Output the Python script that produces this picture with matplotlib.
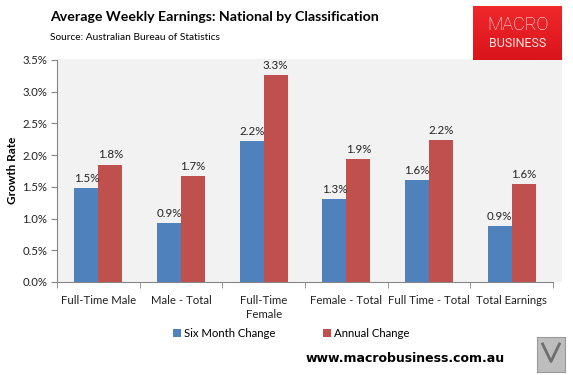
import numpy as np
import matplotlib
matplotlib.use("Agg")
import matplotlib.pyplot as plt
from matplotlib.patches import Rectangle

categories = ["Full-Time Male", "Male - Total", "Full-Time\nFemale",
              "Female - Total", "Full Time - Total", "Total Earnings"]
six_month = [1.48, 0.93, 2.22, 1.31, 1.61, 0.88]
annual = [1.85, 1.67, 3.26, 1.94, 2.24, 1.55]
six_labels = ["1.5%", "0.9%", "2.2%", "1.3%", "1.6%", "0.9%"]
annual_labels = ["1.8%", "1.7%", "3.3%", "1.9%", "2.2%", "1.6%"]
yticks = [0, 0.5, 1.0, 1.5, 2.0, 2.5, 3.0, 3.5]

plt.rcParams['font.family'] = ['Lato', 'DejaVu Sans']

W, H = 573, 375
fig = plt.figure(figsize=(W / 100, H / 100), dpi=100)
fig.patch.set_facecolor("white")

def px(x, y, w, h):
    return [x / W, 1 - (y + h) / H, w / W, h / H]

# grey plot area (extends a bit past the axis on the right)
bg = fig.add_axes(px(57, 59, 505, 223), zorder=0)
bg.set_facecolor("#F2F2F2")
bg.axis("off")
bg.add_patch(Rectangle((0, 0), 1, 1, transform=bg.transAxes, facecolor="#F2F2F2",
                       edgecolor="none"))

ax = fig.add_axes(px(57, 60, 496, 222), zorder=1)
ax.set_facecolor("none")
x = np.arange(len(categories))
bw = 0.29
blue = "#4F81BD"
red = "#C0504D"
b1 = ax.bar(x - bw / 2, six_month, bw, color=blue, label="Six Month Change", zorder=2)
b2 = ax.bar(x + bw / 2, annual, bw, color=red, label="Annual Change", zorder=2)

for bars, labs in ((b1, six_labels), (b2, annual_labels)):
    for b, t in zip(bars, labs):
        ax.annotate(t, (b.get_x() + b.get_width() / 2, b.get_height()),
                    xytext=(0, 3), textcoords="offset points",
                    ha="center", va="bottom", fontsize=8.3, color="#222222")

ax.set_xlim(-0.5, len(categories) - 0.5)
ax.set_ylim(0, 3.5)
ax.set_yticks(yticks)
ax.set_yticklabels(["{:.1f}%".format(v) for v in yticks], fontsize=8.2, color="#222222")
ax.set_xticks(x)
ax.set_xticklabels(categories, fontsize=8.2, color="#222222", linespacing=1.35)
ax.set_xticks(np.arange(-0.5, len(categories)), minor=True)
ax.tick_params(axis="x", which="major", length=0, pad=9)
ax.tick_params(axis="x", which="minor", length=4, color="#868686")
ax.tick_params(axis="y", length=4, color="#868686", pad=3)
for s in ("top", "right"):
    ax.spines[s].set_visible(False)
for s in ("left", "bottom"):
    ax.spines[s].set_color("#868686")

fig.text(13 / W, 1 - 170 / H, "Growth Rate", rotation=90, fontsize=8.5,
         fontweight="bold", ha="center", va="center")

ax.legend(loc="center left", bbox_to_anchor=(116 / 496, -0.23), ncol=2, frameon=False,
          fontsize=8.2, handlelength=0.7, handleheight=0.7, columnspacing=4.1,
          handletextpad=0.3, borderpad=0, borderaxespad=0)

fig.text(50 / W, 1 - 17 / H, "Average Weekly Earnings: National by Classification",
         fontsize=10.2, fontweight="bold", va="center", ha="left")
fig.text(50 / W, 1 - 37 / H, "Source: Australian Bureau of Statistics",
         fontsize=7.3, va="center", ha="left")

# logo
logo = fig.add_axes(px(473, 6, 89, 54), zorder=3)
logo.set_xlim(0, 1)
logo.set_ylim(0, 1)
grad = np.linspace(0, 1, 50).reshape(-1, 1)
logo.imshow(grad, extent=(0, 1, 0, 1), aspect="auto", origin="lower",
            cmap=matplotlib.colors.LinearSegmentedColormap.from_list("r", ["#D9141A", "#F0282C"]))
logo.text(0.5, 0.64, "MACRO", color="white", fontsize=13, ha="center", va="center",
          family="Roboto", fontweight="light")
logo.text(0.5, 0.3, "BUSINESS", color="#FFE5E5", fontsize=9, ha="center", va="center",
          family="Roboto")
logo.axis("off")

fig.text(405 / W, 1 - 358 / H, "www.macrobusiness.com.au", fontsize=9,
         fontweight="bold", family="DejaVu Sans", ha="center", va="center")

# wolf placeholder
wolf = fig.add_axes(px(537, 337, 28, 35))
wolf.set_facecolor("#BDBDBD")
wolf.set_xticks([])
wolf.set_yticks([])
for s in wolf.spines.values():
    s.set_color("#999999")
wolf.plot([0.2, 0.5, 0.8], [0.8, 0.3, 0.8], color="#6E6E6E", lw=2)
wolf.set_xlim(0, 1)
wolf.set_ylim(0, 1)

fig.savefig("out.png", dpi=100)
